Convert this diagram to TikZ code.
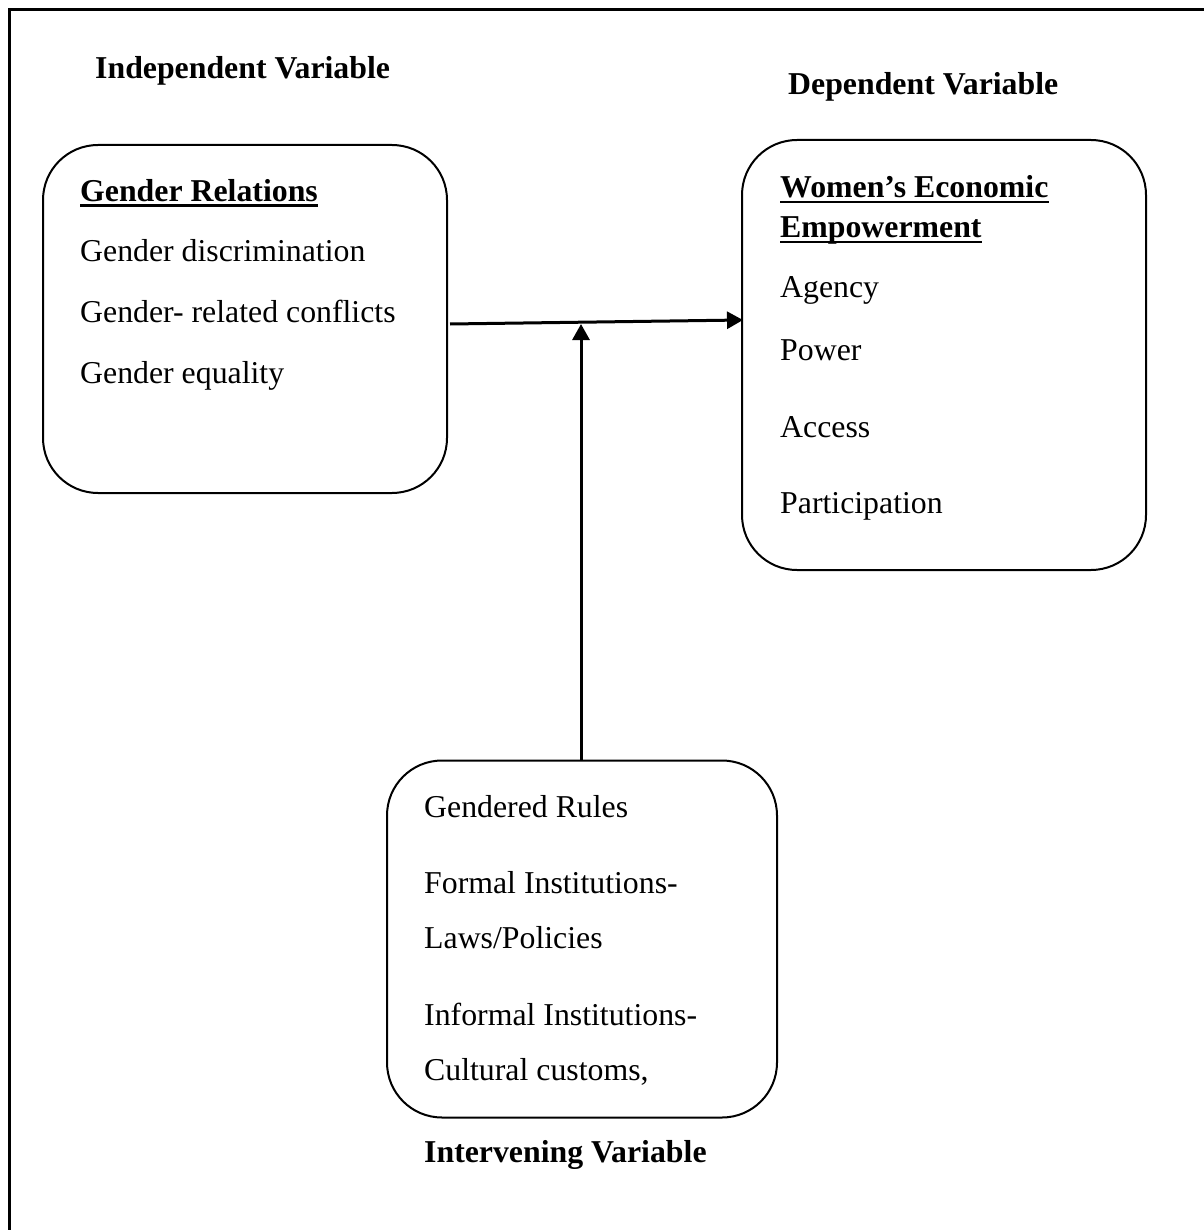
\documentclass[tikz,border=0pt]{standalone}
\usepackage{fontspec}
\setmainfont{Liberation Serif}
\usetikzlibrary{arrows.meta}
\begin{document}
\begin{tikzpicture}[x=1pt,y=-1pt,
  txt/.style={anchor=base west,inner sep=0pt,font=\fontsize{31.8}{38}\selectfont},
  head/.style={txt,font=\fontsize{31.8}{38}\selectfont\bfseries},
  box/.style={draw,line width=2pt,rounded corners=55pt,inner sep=0pt},
  arr/.style={line width=3pt,-{Triangle[length=16pt,width=17pt]}},
  ul/.style={line width=2.8pt}]
\useasboundingbox (0,0) rectangle (1203,1230);
\fill[white] (0,0) rectangle (1203,1230);
% frame
\draw[line width=3pt] (9,1235) -- (9,10) -- (1210,10);
% boxes
\node[box,minimum width=404pt,minimum height=348pt] (b1) at (245,319) {};
\node[box,minimum width=404pt,minimum height=430pt] (b2) at (944,355) {};
\node[box,minimum width=390pt,minimum height=357pt] (b3) at (582,939) {};
% headings
\node[head] (iv) at (95,79) {Independent Variable};
\node[head] (dv) at (788,95) {Dependent Variable};
\node[head] (inv) at (424,1162) {Intervening Variable};
% box 1 text
\node[head] (h1) at (80,202) {Gender Relations};
\draw[ul] ([yshift=-3.5pt]h1.base west) -- ([yshift=-3.5pt]h1.base east);
\node[txt] (t11) at (80,262) {Gender discrimination};
\node[txt] (t12) at (80,322) {Gender- related conflicts};
\node[txt] (t13) at (80,383) {Gender equality};
% box 2 text
\node[head] (h2a) at (780,198) {Women’s Economic};
\draw[ul] ([yshift=-4pt]h2a.base west) -- ([yshift=-4pt]h2a.base east);
\node[head] (h2b) at (780,238) {Empowerment};
\draw[ul] ([yshift=-4pt]h2b.base west) -- ([yshift=-4pt]h2b.base east);
\node[txt] (t21) at (780,298) {Agency};
\node[txt] (t22) at (780,360) {Power};
\node[txt] (t23) at (780,437) {Access};
\node[txt] (t24) at (780,513) {Participation};
% box 3 text
\node[txt] (t31) at (424,817) {Gendered Rules};
\node[txt] (t32) at (424,893) {Formal Institutions-};
\node[txt] (t33) at (424,948) {Laws/Policies};
\node[txt] (t34) at (424,1025) {Informal Institutions-};
\node[txt] (t35) at (424,1080) {Cultural customs,};
% connectors
\coordinate (hs) at (450,324);
\coordinate (he) at (743,320);
\draw[arr] (hs) -- (he);
\coordinate (vt) at (581,324);
\draw[arr] (b3.north -| vt) -- (vt);
\end{tikzpicture}
\end{document}
